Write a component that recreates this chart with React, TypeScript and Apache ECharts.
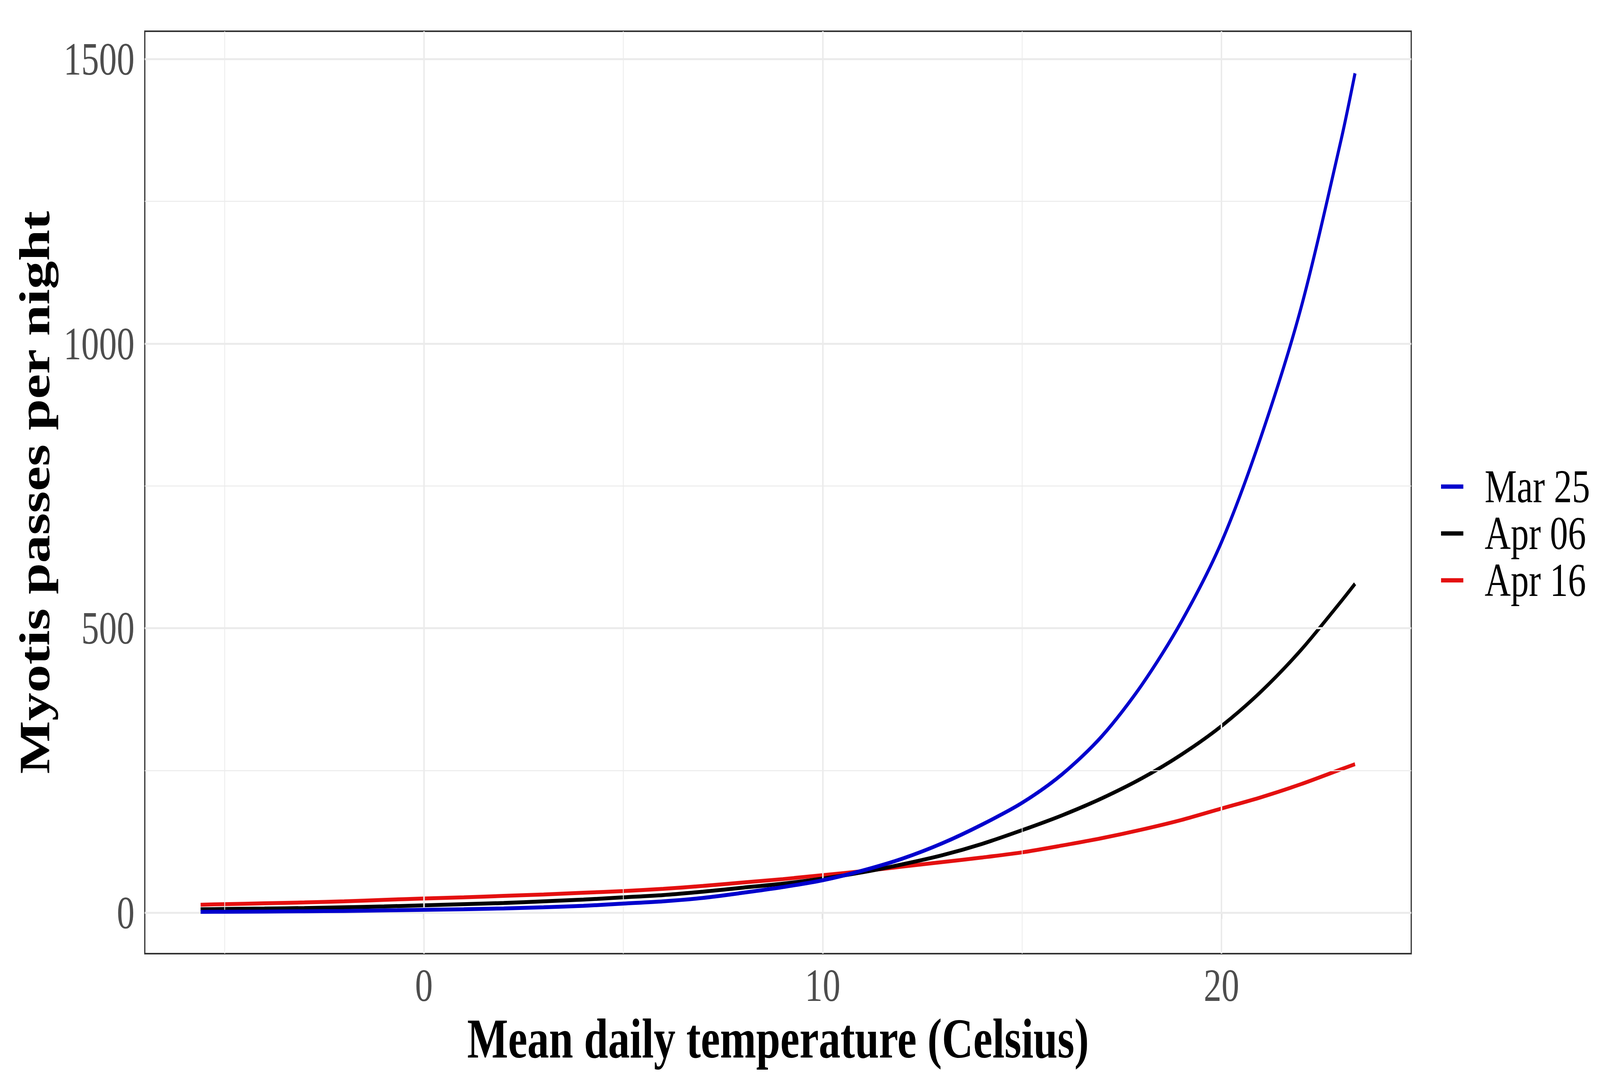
import React, { useEffect, useRef, useState } from "react";
import * as echarts from "echarts";

const temps = [-5.6, -5, -4, -3, -2, -1, 0, 1, 2, 3, 4, 5, 6, 7, 8, 9, 10, 11, 12, 13, 14, 15, 16, 17, 18, 19, 20, 21, 22, 23, 23.35];
const mar25 = [1.5, 1.6, 2, 2.5, 3, 4, 5, 6, 7.5, 9.5, 12, 16, 20, 26, 35, 45, 57, 74, 95, 122, 155, 193, 243, 310, 400, 512, 651, 838, 1064, 1358, 1475];
const apr06 = [6, 6.5, 7.2, 8.2, 9.5, 11, 13, 15, 17, 20, 23, 27, 31, 37, 44, 51, 60, 71, 85, 101, 121, 145, 171, 201, 236, 278, 328, 389, 462, 547, 578];
const apr16 = [14, 15, 16.5, 18, 20, 22.5, 25, 27, 29.5, 32, 35, 38, 42, 47, 53, 59, 66, 73, 81, 89, 97, 106, 118, 131, 146, 163, 183, 203, 226, 252, 261];

const seriesNames = ["Mar 25", "Apr 06", "Apr 16"];
const seriesColors = ["#0000CD", "#000000", "#E41010"];

const xMajor = [0, 10, 20];
const xMinor = [-5, 5, 15];
const yMajor = [0, 500, 1000, 1500];
const yMinor = [250, 750, 1250];

const X_MIN = -7;
const X_MAX = 24.76;
const Y_MIN = -72;
const Y_MAX = 1549;

const W = 5315;
const H = 2786;
const FONT = "'Liberation Serif', 'Times New Roman', serif";

export default function App() {
  const ref = useRef<HTMLDivElement>(null);
  const [sc, setSc] = useState<[number, number]>([
    typeof window !== "undefined" ? window.innerWidth / W : 1,
    typeof window !== "undefined" ? window.innerHeight / H : 1,
  ]);
  useEffect(() => {
    const onResize = () => setSc([window.innerWidth / W, window.innerHeight / H]);
    window.addEventListener("resize", onResize);
    return () => window.removeEventListener("resize", onResize);
  }, []);
  useEffect(() => {
    if (!ref.current) return;
    const chart = echarts.init(ref.current, undefined, { renderer: "svg" });
    const pair = (ys: number[]) => temps.map((t, i) => [t, ys[i]]);
    const gridLines: any[] = [];
    xMinor.forEach((v) => gridLines.push({ xAxis: v, lineStyle: { width: 2.5, color: "#EBEBEB", type: "solid" } }));
    yMinor.forEach((v) => gridLines.push({ yAxis: v, lineStyle: { width: 2.5, color: "#EBEBEB", type: "solid" } }));
    xMajor.forEach((v) => gridLines.push({ xAxis: v, lineStyle: { width: 5, color: "#EBEBEB", type: "solid" } }));
    yMajor.forEach((v) => gridLines.push({ yAxis: v, lineStyle: { width: 5, color: "#EBEBEB", type: "solid" } }));

    const data = [mar25, apr06, apr16];
    chart.setOption({
      animation: false,
      backgroundColor: "#FFFFFF",
      grid: {
        left: 481,
        right: W - 4688,
        top: 80,
        bottom: H - 2442,
        show: true,
        borderColor: "#333333",
        borderWidth: 4,
        backgroundColor: "transparent",
        containLabel: false,
      },
      legend: {
        orient: "vertical",
        left: 4782,
        top: 1181,
        data: seriesNames,
        icon: "rect",
        itemWidth: 74,
        itemHeight: 11,
        itemGap: 0,
        textStyle: {
          fontFamily: FONT,
          fontSize: 120,
          color: "#000000",
          lineHeight: 113,
          padding: [0, 0, 0, 66],
        },
      },
      xAxis: {
        type: "value",
        min: X_MIN,
        max: X_MAX,
        name: "Mean daily temperature (Celsius)",
        nameLocation: "middle",
        nameGap: 137,
        nameTextStyle: { fontFamily: FONT, fontSize: 144, fontWeight: "bold", color: "#000000" },
        axisLine: { show: false },
        axisTick: { show: true, customValues: xMajor, length: 16, lineStyle: { color: "#333333", width: 4 } },
        axisLabel: {
          show: true,
          customValues: xMajor,
          margin: 22,
          fontFamily: FONT,
          fontSize: 118,
          color: "#4D4D4D",
          formatter: (v: number) => String(v),
        },
        splitLine: { show: false },
      },
      yAxis: {
        type: "value",
        min: Y_MIN,
        max: Y_MAX,
        name: "Myotis passes per night",
        nameLocation: "middle",
        nameGap: 294,
        nameRotate: 90,
        nameTextStyle: { fontFamily: FONT, fontSize: 144, fontWeight: "bold", color: "#000000" },
        axisLine: { show: false },
        axisTick: { show: true, customValues: yMajor, length: 16, lineStyle: { color: "#333333", width: 4 } },
        axisLabel: {
          show: true,
          customValues: yMajor,
          margin: 34,
          fontFamily: FONT,
          fontSize: 118,
          color: "#4D4D4D",
          formatter: (v: number) => String(v),
        },
        splitLine: { show: false },
      },
      series: [
        {
          name: "__grid",
          type: "line",
          data: [[temps[0], mar25[0]]],
          showSymbol: false,
          symbol: "none",
          lineStyle: { width: 0, opacity: 0 },
          silent: true,
          z: 1,
          markLine: {
            silent: true,
            symbol: ["none", "none"],
            label: { show: false },
            animation: false,
            data: gridLines,
          },
        },
        ...data.map((ys, i) => ({
          name: seriesNames[i],
          type: "line",
          data: pair(ys),
          smooth: 0.3,
          showSymbol: false,
          symbol: "none",
          color: seriesColors[i],
          lineStyle: { width: 10, color: seriesColors[i] },
          z: 3 + (2 - i),
        })),
      ],
    });
    return () => chart.dispose();
  }, []);
  return (
    <div
      style={{
        position: "fixed",
        left: 0,
        top: 0,
        width: W,
        height: H,
        transform: `scale(${sc[0]}, ${sc[1]})`,
        transformOrigin: "0 0",
        background: "#FFFFFF",
      }}
    >
      <div ref={ref} style={{ width: W, height: H }} />
    </div>
  );
}
